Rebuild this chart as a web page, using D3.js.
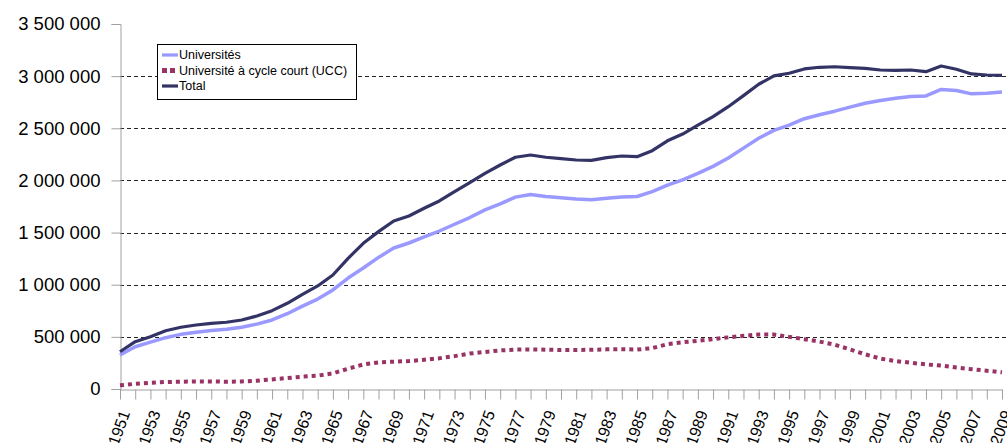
<!DOCTYPE html>
<html>
<head>
<meta charset="utf-8">
<script src="https://cdn.jsdelivr.net/npm/d3@7"></script>
<style>
  html, body { margin: 0; padding: 0; background: #fff; }
  svg { display: block; font-family: "Liberation Sans", Arial, sans-serif; }
</style>
</head>
<body>
<svg id="chart" width="1007" height="443"></svg>
<script>
// Effectifs étudiants par année
const years = d3.range(1951, 2010);

const universites = [
  326000, 405000, 450000, 492000, 524000, 544000, 560000, 572000, 592000, 622000,
  662000, 722000, 795000, 862000, 950000, 1064000, 1160000, 1262000, 1352000, 1400000,
  1458000, 1515000, 1580000, 1644000, 1718000, 1776000, 1840000, 1865000, 1846000, 1835000,
  1821000, 1814000, 1830000, 1842000, 1846000, 1892000, 1955000, 2005000, 2068000, 2135000,
  2215000, 2310000, 2405000, 2480000, 2530000, 2592000, 2630000, 2664000, 2703000, 2740000,
  2767000, 2788000, 2805000, 2810000, 2873000, 2862000, 2830000, 2837000, 2848000
];

const ucc = [
  35000, 50000, 60000, 67000, 70000, 72000, 72000, 70000, 72000, 80000,
  92000, 105000, 118000, 128000, 150000, 195000, 235000, 255000, 262000, 268000,
  280000, 295000, 315000, 340000, 355000, 370000, 378000, 380000, 377000, 374000,
  374000, 376000, 380000, 382000, 378000, 392000, 430000, 448000, 462000, 478000,
  495000, 510000, 522000, 522000, 500000, 478000, 455000, 425000, 380000, 333000,
  292000, 268000, 252000, 236000, 224000, 206000, 190000, 175000, 160000
];

const total = [
  357000, 454000, 502000, 559000, 592000, 614000, 630000, 640000, 662000, 700000,
  751000, 822000, 908000, 988000, 1093000, 1253000, 1397000, 1509000, 1611000, 1659000,
  1733000, 1803000, 1892000, 1979000, 2068000, 2148000, 2222000, 2244000, 2222000, 2209000,
  2196000, 2193000, 2218000, 2234000, 2228000, 2285000, 2380000, 2445000, 2530000, 2611000,
  2707000, 2813000, 2922000, 3002000, 3028000, 3069000, 3085000, 3090000, 3082000, 3075000,
  3059000, 3056000, 3059000, 3043000, 3097000, 3066000, 3021000, 3011000, 3008000
];

const yTicks = [0, 500000, 1000000, 1500000, 2000000, 2500000, 3000000, 3500000];
const xTickLabels = years.filter(y => (y - 1951) % 2 === 0);

const seriesNames = ["Universités", "Université à cycle court (UCC)", "Total"];

const series = [
  { name: seriesNames[0], values: universites, color: "#9999FF", width: 3.5, dash: null },
  { name: seriesNames[1], values: ucc, color: "#993366", width: 4, dash: "4,4" },
  { name: seriesNames[2], values: total, color: "#333366", width: 3.2, dash: null }
];

const svg = d3.select("#chart");
const plotLeft = 120, plotRight = 1002, plotTop = 24, plotBottom = 389;

const x = d3.scaleLinear().domain([1951, 2009]).range([plotLeft, plotRight]);
const y = d3.scaleLinear().domain([0, 3500000]).range([plotBottom, plotTop]);

const fr = d3.formatLocale({ decimal: ",", thousands: " ", grouping: [3], currency: ["", ""] });
const fmt = fr.format(",");

// horizontal dashed gridlines
svg.append("g")
  .selectAll("line")
  .data(yTicks.filter(v => v > 0 && v < 3500000))
  .join("line")
  .attr("x1", plotLeft).attr("x2", 1007)
  .attr("y1", d => Math.round(y(d)) + 0.5).attr("y2", d => Math.round(y(d)) + 0.5)
  .attr("stroke", "#222").attr("stroke-width", 1).attr("stroke-dasharray", "4,3");

// y axis
const yAxis = svg.append("g")
  .attr("transform", `translate(${plotLeft + 0.5},0)`)
  .call(d3.axisLeft(y).tickValues(yTicks).tickFormat(fmt).tickSize(9).tickPadding(11));
yAxis.select(".domain").attr("stroke", "#a0a0a0");
yAxis.selectAll(".tick line").attr("stroke", "#a0a0a0");
yAxis.selectAll(".tick text").attr("font-size", "18.5px").attr("fill", "#000")
  .attr("font-family", "'Liberation Sans', Arial, sans-serif");

// x axis
const xAxis = svg.append("g")
  .attr("transform", `translate(0,${plotBottom + 0.5})`)
  .call(d3.axisBottom(x).tickValues(years).tickFormat("").tickSize(10).tickSizeOuter(0));
xAxis.select(".domain").attr("stroke", "#a0a0a0");
xAxis.selectAll(".tick line").attr("stroke", "#a0a0a0");

// rotated year labels
svg.append("g")
  .selectAll("text")
  .data(xTickLabels)
  .join("text")
  .attr("transform", d => `translate(${x(d) + 5},${plotBottom + 22}) rotate(-70)`)
  .attr("text-anchor", "end")
  .attr("dy", "0.35em")
  .attr("font-size", "16px")
  .attr("fill", "#000")
  .text(d => d);

// series lines
const line = d3.line().x((d, i) => x(years[i])).y(d => y(d));
svg.append("g")
  .selectAll("path")
  .data(series)
  .join("path")
  .attr("d", d => line(d.values))
  .attr("fill", "none")
  .attr("stroke", d => d.color)
  .attr("stroke-width", d => d.width)
  .attr("stroke-dasharray", d => d.dash)
  .attr("stroke-linejoin", "round");

// legend
const lg = svg.append("g");
lg.append("rect")
  .attr("x", 157.5).attr("y", 44.5).attr("width", 199).attr("height", 55)
  .attr("fill", "#fff").attr("stroke", "#000").attr("stroke-width", 1);
const rows = lg.selectAll("g.item").data(series).join("g")
  .attr("class", "item")
  .attr("transform", (d, i) => `translate(0,${55 + i * 15.5})`);
rows.append("line")
  .attr("x1", 162).attr("x2", 178).attr("y1", 0).attr("y2", 0)
  .attr("stroke", d => d.color)
  .attr("stroke-width", d => d.dash ? 5 : 3.2)
  .attr("stroke-dasharray", d => d.dash ? "5,3" : null);
rows.append("text")
  .attr("x", 179).attr("y", 0).attr("dy", "0.35em")
  .attr("font-size", "12.5px").attr("fill", "#000")
  .text(d => d.name);
</script>
</body>
</html>
